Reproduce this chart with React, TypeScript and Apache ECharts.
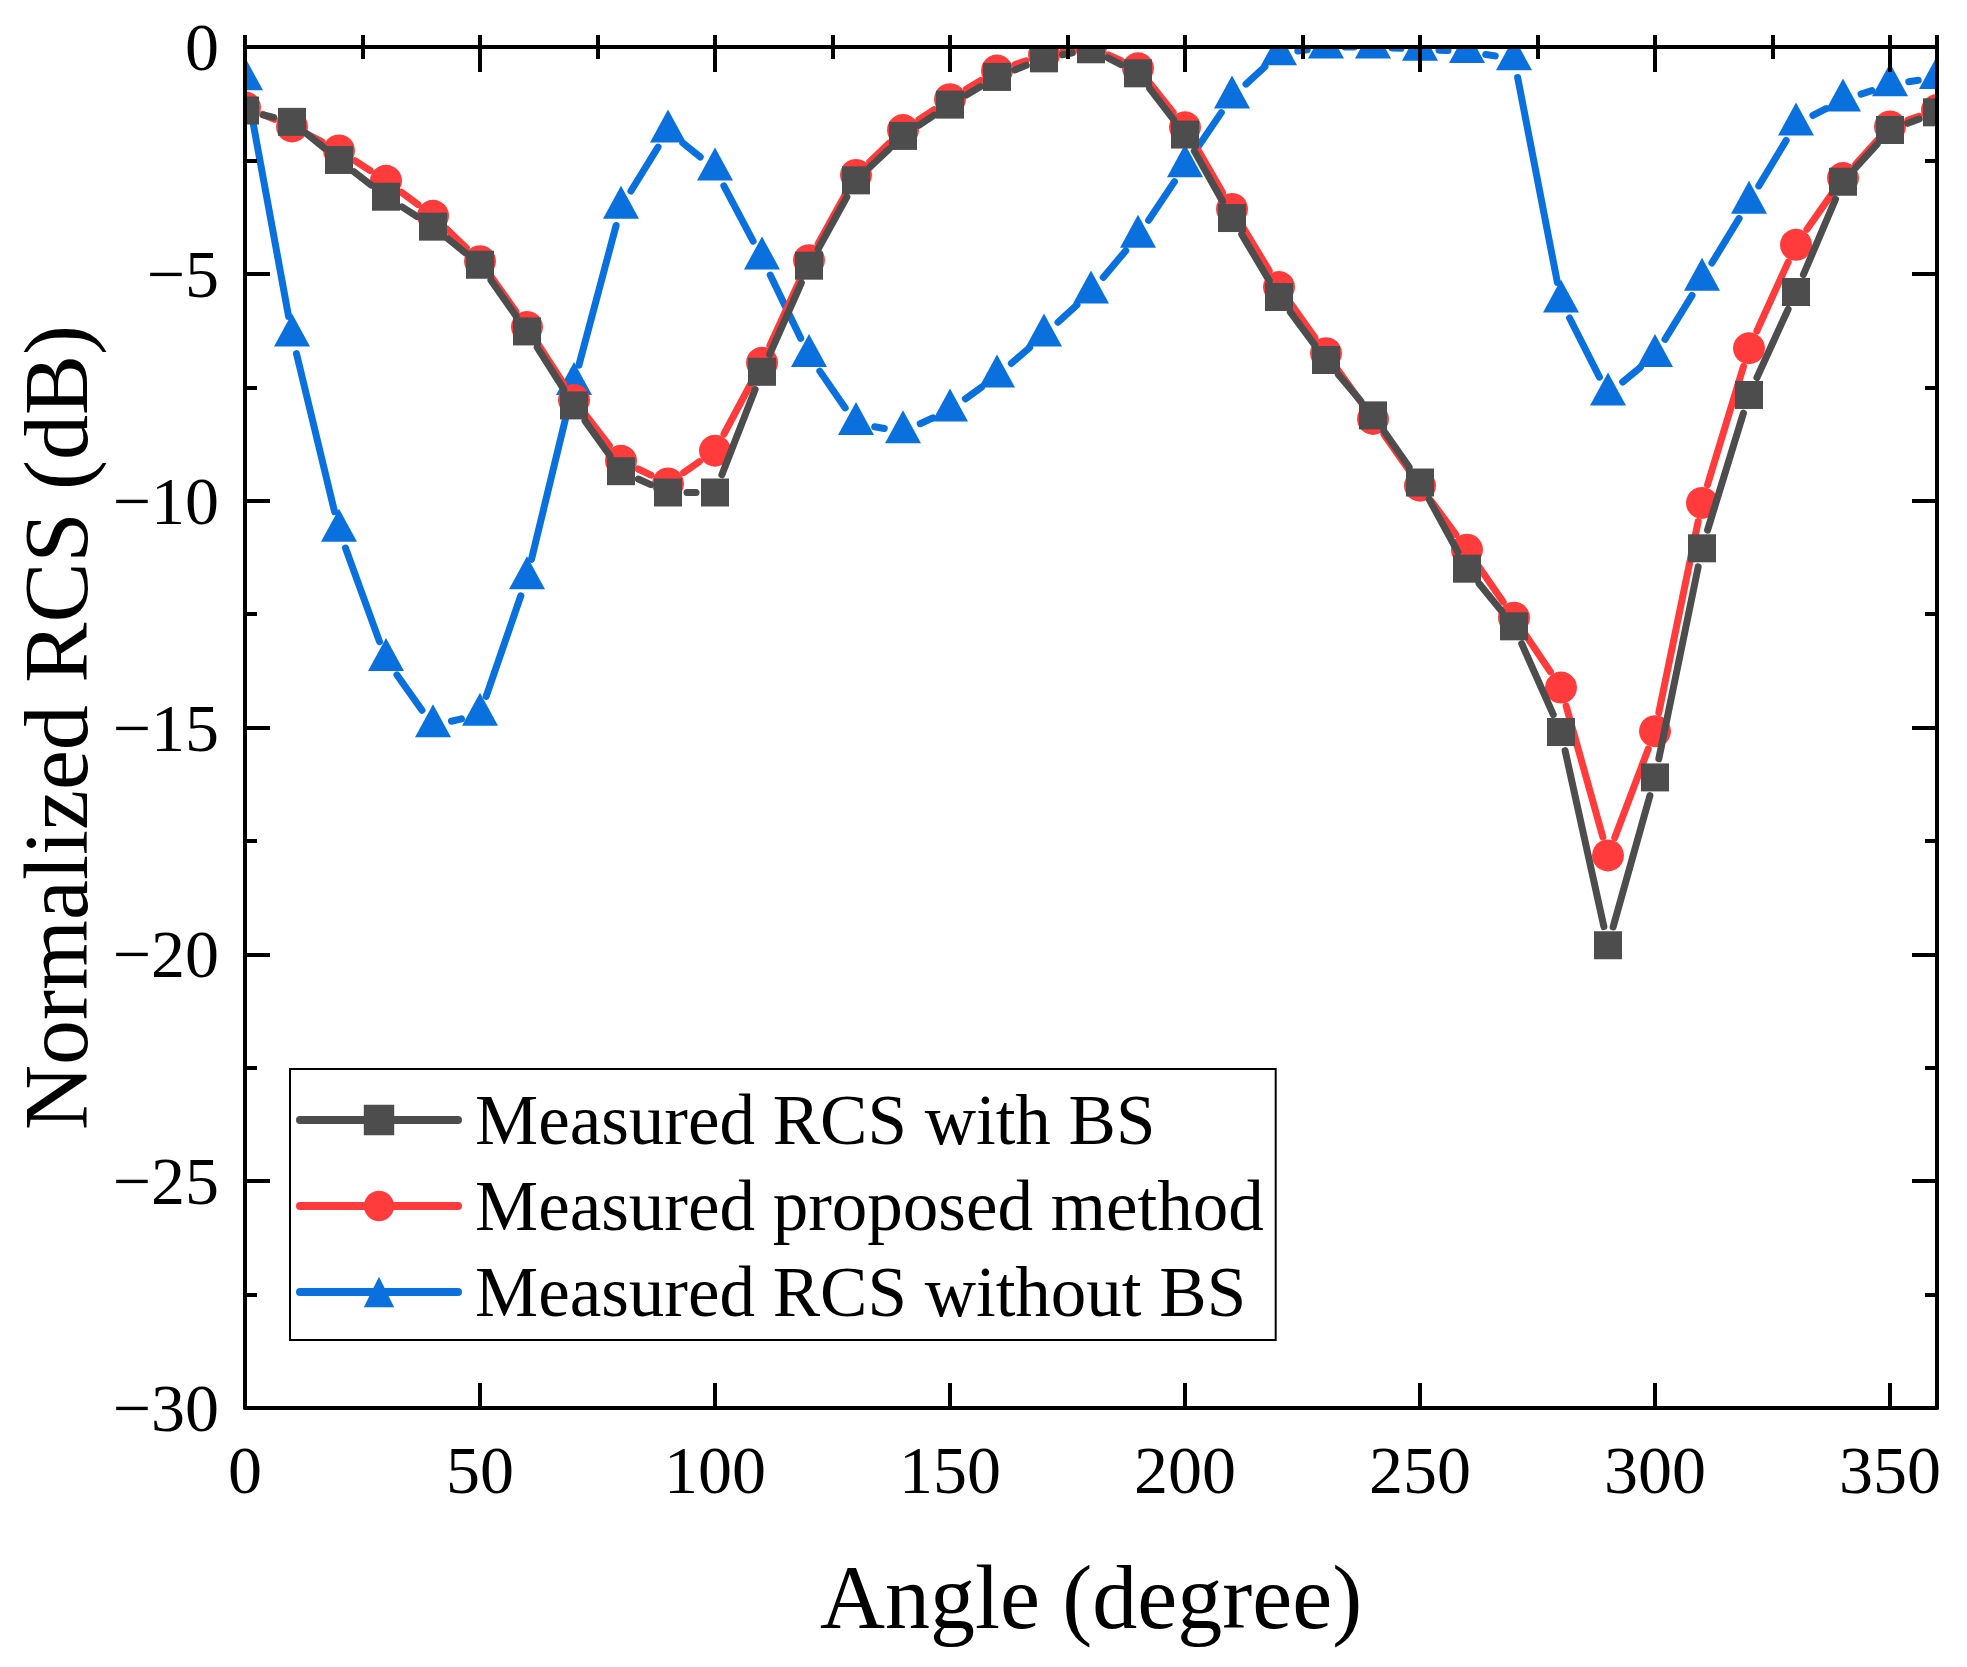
import * as echarts from "echarts";
import { useEffect, useRef } from "react";

const W = 1967;
const H = 1667;
const GRID = { left: 245, top: 47, right: 30, bottom: 259 };
const FONT = "'Liberation Serif', 'Times New Roman', serif";

const angles = [
  0, 10, 20, 30, 40, 50, 60, 70, 80, 90, 100, 110, 120, 130, 140, 150, 160, 170, 180,
  190, 200, 210, 220, 230, 240, 250, 260, 270, 280, 290, 300, 310, 320, 330, 340, 350, 360,
];

// Measured RCS with BS
const withBS = [
  -1.4, -1.65, -2.49, -3.3, -3.96, -4.8, -6.27, -7.9, -9.35, -9.82, -9.82, -7.16, -4.82,
  -2.94, -1.96, -1.27, -0.66, -0.25, -0.05, -0.58, -1.93, -3.77, -5.51, -6.9, -8.12, -9.6,
  -11.5, -12.77, -15.1, -19.8, -16.1, -11.05, -7.67, -5.4, -2.97, -1.83, -1.44,
];

// Measured proposed method
const proposed = [
  -1.33, -1.75, -2.28, -2.95, -3.72, -4.72, -6.17, -7.78, -9.12, -9.62, -8.9, -6.96, -4.7,
  -2.82, -1.83, -1.15, -0.52, -0.17, 0, -0.47, -1.77, -3.57, -5.29, -6.75, -8.2, -9.67,
  -11.08, -12.58, -14.12, -17.82, -15.08, -10.05, -6.64, -4.36, -2.89, -1.75, -1.39,
];

// Measured RCS without BS
const withoutBS = [
  -0.7, -6.35, -10.65, -13.5, -14.96, -14.71, -11.7, -7.42, -3.53, -1.85, -2.69, -4.65, -6.8,
  -8.3, -8.48, -8.0, -7.25, -6.35, -5.4, -4.17, -2.62, -1.1, -0.15, 0, 0, -0.05,
  -0.1, -0.26, -5.6, -7.65, -6.8, -5.12, -3.42, -1.7, -1.17, -0.83, -0.67,
];

const seriesDefs = [
  { name: "Measured RCS with BS", values: withBS, color: "#4D4D4D", symbol: "rect", size: 28, offset: [0, 0], z: 6 },
  { name: "Measured proposed method", values: proposed, color: "#FF3B3B", symbol: "circle", size: 32, offset: [0, 0], z: 4 },
  { name: "Measured RCS without BS", values: withoutBS, color: "#0A70DE", symbol: "triangle", size: [36, 33], offset: [0, -5], z: 2 },
];

// gap between line end and marker centre, like Origin's "gap to symbol"
const GAP = 19;
const LINE_W = 7;

const black = "#000";

const majorX = (position: "top" | "bottom", labels: boolean) => ({
  type: "value",
  position,
  min: 0,
  max: 360,
  interval: 50,
  z: 10,
  axisLine: { show: true, onZero: false, lineStyle: { color: black, width: 4 } },
  axisTick: { show: true, inside: true, length: 25, lineStyle: { color: black, width: 4 } },
  axisLabel: {
    show: labels,
    showMaxLabel: false,
    margin: 28,
    fontSize: 68,
    fontFamily: FONT,
    color: black,
  },
  splitLine: { show: false },
  ...(labels
    ? {
        name: "Angle (degree)",
        nameLocation: "middle",
        nameGap: 144,
        nameTextStyle: { fontSize: 90, fontFamily: FONT, color: black },
      }
    : {}),
});

const minorX = (position: "top" | "bottom") => ({
  type: "value",
  position,
  min: 0,
  max: 360,
  interval: 25,
  z: 10,
  axisLine: { show: false },
  axisTick: { show: true, inside: true, length: 12, lineStyle: { color: black, width: 4 } },
  axisLabel: { show: false },
  splitLine: { show: false },
});

const yAxisDef = (position: "left" | "right", labels: boolean) => ({
  type: "value",
  position,
  min: -30,
  max: 0,
  interval: 5,
  z: 10,
  axisLine: { show: true, onZero: false, lineStyle: { color: black, width: 4 } },
  axisTick: { show: true, inside: true, length: 25, lineStyle: { color: black, width: 4 } },
  minorTick: { show: true, splitNumber: 2, length: 12, lineStyle: { color: black, width: 4 } },
  axisLabel: {
    show: labels,
    margin: 26,
    fontSize: 68,
    fontFamily: FONT,
    color: black,
    formatter: (v: number) => (v < 0 ? `\u2212${-v}` : `${v}`),
  },
  splitLine: { show: false },
  ...(labels
    ? {
        name: "Normalized RCS (dB)",
        nameLocation: "middle",
        nameGap: 142,
        nameTextStyle: { fontSize: 90, fontFamily: FONT, color: black },
      }
    : {}),
});

export default function App() {
  const ref = useRef<HTMLDivElement | null>(null);

  useEffect(() => {
    if (!ref.current) return;
    const chart = echarts.init(ref.current, undefined, { renderer: "svg" });

    const series: any[] = [];
    seriesDefs.forEach((s) => {
      const segs = s.values.slice(1).map((v, i) => [angles[i], s.values[i], angles[i + 1], v]);
      series.push({
        type: "custom",
        xAxisIndex: 0,
        yAxisIndex: 0,
        z: s.z,
        silent: true,
        encode: { x: [0, 2], y: [1, 3] },
        data: segs,
        renderItem: (_params: any, api: any) => {
          const p0 = api.coord([api.value(0), api.value(1)]);
          const p1 = api.coord([api.value(2), api.value(3)]);
          const dx = p1[0] - p0[0];
          const dy = p1[1] - p0[1];
          const len = Math.hypot(dx, dy);
          if (len <= 2 * GAP) return { type: "group", children: [] };
          const ux = dx / len;
          const uy = dy / len;
          return {
            type: "line",
            shape: {
              x1: p0[0] + ux * GAP,
              y1: p0[1] + uy * GAP,
              x2: p1[0] - ux * GAP,
              y2: p1[1] - uy * GAP,
            },
            style: { stroke: s.color, lineWidth: LINE_W, lineCap: "round" },
          };
        },
      });
      series.push({
        type: "line",
        name: s.name,
        xAxisIndex: 0,
        yAxisIndex: 0,
        z: s.z + 1,
        data: angles.map((a, i) => [a, s.values[i]]),
        symbol: s.symbol,
        symbolSize: s.size,
        symbolOffset: s.offset,
        showAllSymbol: true,
        clip: false,
        itemStyle: { color: s.color },
        lineStyle: { color: s.color, width: LINE_W, opacity: 0 },
      });
    });

    chart.setOption({
      animation: false,
      backgroundColor: "#fff",
      grid: { ...GRID, containLabel: false },
      xAxis: [majorX("bottom", true), minorX("bottom"), majorX("top", false), minorX("top")],
      yAxis: [yAxisDef("left", true), yAxisDef("right", false)],
      legend: {
        orient: "vertical",
        left: 290,
        top: 1069,
        z: 12,
        data: seriesDefs.map((s) => s.name),
        itemWidth: 158,
        itemHeight: 38,
        itemGap: 6,
        padding: [11, 12, 8, 6],
        borderColor: black,
        borderWidth: 2,
        backgroundColor: "#fff",
        selectedMode: false,
        lineStyle: { width: 8, opacity: 1, cap: "round" },
        textStyle: {
          fontSize: 71,
          fontFamily: FONT,
          color: black,
          lineHeight: 80,
          padding: [0, 0, 0, 12],
        },
      },
      // white masks outside the plot area so markers are clipped at the frame
      graphic: [
        { type: "rect", silent: true, z: 8, shape: { x: 0, y: 0, width: GRID.left, height: H }, style: { fill: "#fff" } },
        { type: "rect", silent: true, z: 8, shape: { x: 0, y: 0, width: W, height: GRID.top }, style: { fill: "#fff" } },
        { type: "rect", silent: true, z: 8, shape: { x: W - GRID.right, y: 0, width: GRID.right, height: H }, style: { fill: "#fff" } },
      ],
      series,
    });

    return () => {
      chart.dispose();
    };
  }, []);

  return (
    <div
      ref={ref}
      style={{ position: "fixed", left: 0, top: 0, width: W, height: H, background: "#fff" }}
    />
  );
}
